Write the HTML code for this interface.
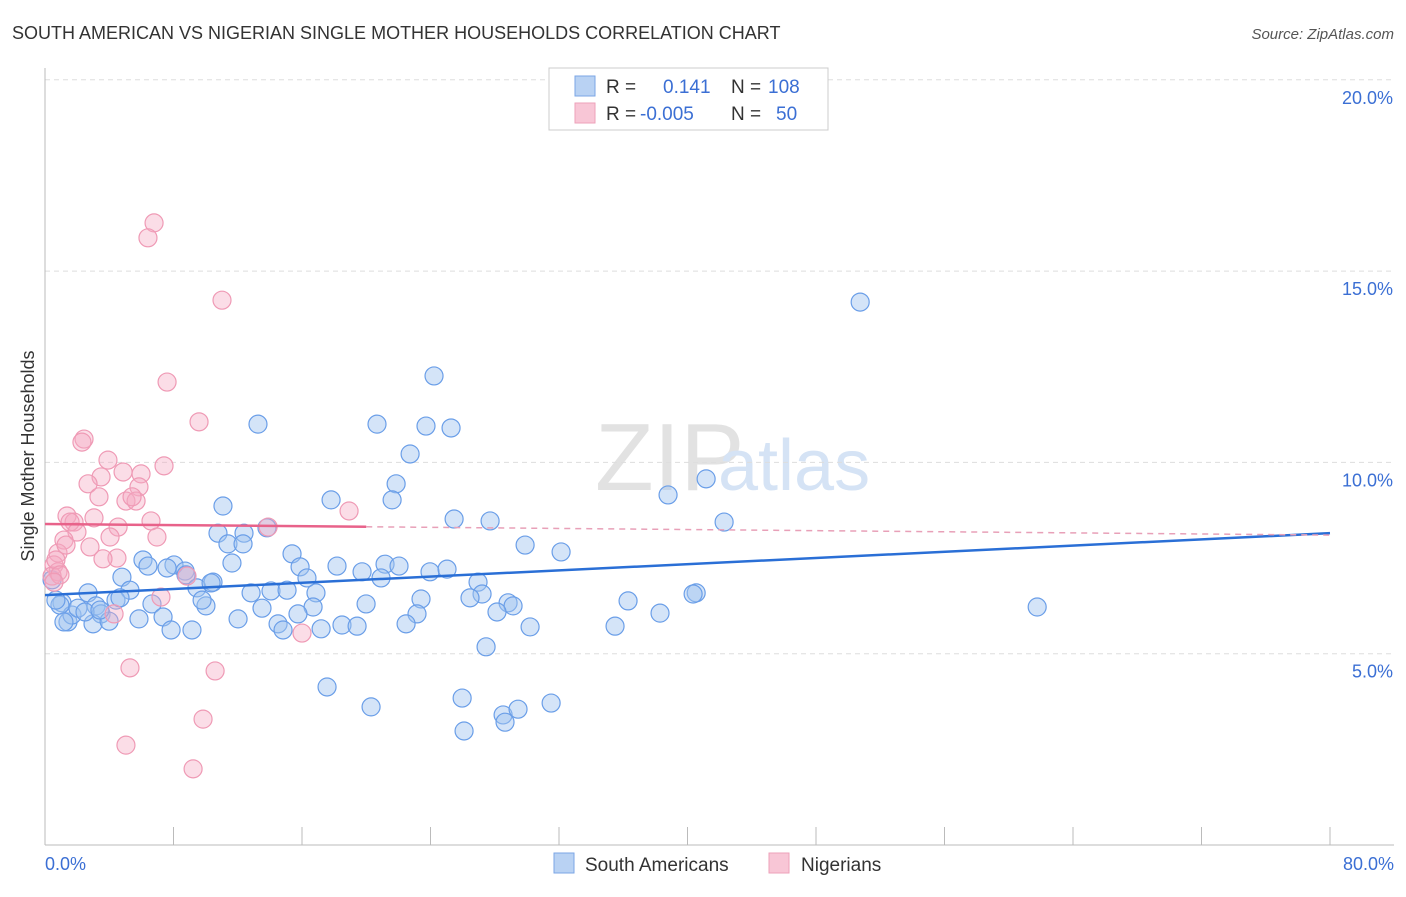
<!DOCTYPE html>
<html><head><meta charset="utf-8"><style>
body{margin:0;background:#fff;font-family:"Liberation Sans",sans-serif;}
svg text{font-family:"Liberation Sans",sans-serif;}
</style></head><body>
<svg id="chart" width="1406" height="892" xmlns="http://www.w3.org/2000/svg">
<text x="12" y="39" font-size="18" fill="#333">SOUTH AMERICAN VS NIGERIAN SINGLE MOTHER HOUSEHOLDS CORRELATION CHART</text>
<text x="1394" y="39" font-size="15" fill="#555" text-anchor="end" font-style="italic">Source: ZipAtlas.com</text>
<text x="595" y="490" font-size="96" fill="#e2e2e2" font-family="Liberation Serif">ZIP</text>
<text x="718" y="490" font-size="72" fill="#d5e3f5">atlas</text>
<g id="grid"></g>
<g id="axes"></g>
<g id="pts"></g>
<g id="trends"></g>
<text transform="translate(34,456) rotate(-90)" font-size="18" fill="#333" text-anchor="middle">Single Mother Households</text>
<text x="45" y="870" font-size="18" fill="#3b6fd4">0.0%</text>
<text x="1394" y="870" font-size="18" fill="#3b6fd4" text-anchor="end">80.0%</text>
<g>
<rect x="549" y="68" width="279" height="62" fill="#fff" stroke="#ccc"/>
<rect x="575" y="76" width="20" height="20" fill="#b9d2f3" stroke="#7ba6e6"/>
<rect x="575" y="103" width="20" height="20" fill="#f8c6d6" stroke="#eea1ba"/>
<text x="606" y="93" font-size="19" fill="#333">R =</text>
<text x="663" y="93" font-size="19" fill="#3b6fd4">0.141</text>
<text x="731" y="93" font-size="19" fill="#333">N =</text>
<text x="768" y="93" font-size="19" fill="#3b6fd4">108</text>
<text x="606" y="120" font-size="19" fill="#333">R =</text>
<text x="640" y="120" font-size="19" fill="#3b6fd4">-0.005</text>
<text x="731" y="120" font-size="19" fill="#333">N =</text>
<text x="776" y="120" font-size="19" fill="#3b6fd4">50</text>
</g>
<g>
<rect x="554" y="853" width="20" height="20" fill="#b9d2f3" stroke="#7ba6e6"/>
<text x="585" y="871" font-size="19" fill="#333">South Americans</text>
<rect x="769" y="853" width="20" height="20" fill="#f8c6d6" stroke="#eea1ba"/>
<text x="801" y="871" font-size="19" fill="#333">Nigerians</text>
</g>
</svg>
<script>
const yTicks=[5,10,15,20];
const yTickLabels=["5.0%","10.0%","15.0%","20.0%"];
const xTicks=[0,8,16,24,32,40,48,56,64,72,80];
const saX=[50.75,24.22,13.26,20.67,23.72,25.28,22.73,17.81,21.86,21.61,11.08,38.79,41.16,25.47,27.71,42.28,13.82,10.77,12.39,11.39,12.33,29.89,32.13,15.38,6.10,11.64,8.03,7.60,15.88,8.72,18.18,21.17,22.04,19.74,20.92,23.97,25.03,4.79,8.78,16.31,26.96,2.68,5.29,9.46,10.46,12.83,14.07,15.07,16.87,27.21,26.46,28.83,40.54,40.35,36.30,61.77,1.06,3.18,4.42,6.66,10.02,9.78,13.51,16.69,19.99,23.41,29.14,28.14,23.16,3.49,5.85,7.35,12.02,15.75,38.29,1.43,2.99,3.99,7.85,9.15,14.51,14.82,17.19,18.49,19.43,22.48,30.20,35.49,27.46,17.56,25.97,31.51,20.30,28.52,29.45,28.64,26.09,1.68,0.93,0.68,0.44,2.05,1.18,2.49,3.42,4.67,6.41,10.34];
const saY=[14.19,12.26,11.00,11.00,10.95,10.90,10.22,9.02,9.44,9.02,8.86,9.15,9.57,8.52,8.47,8.44,8.29,8.15,8.15,7.87,7.87,7.84,7.66,7.61,7.45,7.37,7.32,7.24,7.27,7.16,7.29,7.34,7.29,7.14,6.98,7.14,7.21,7.00,7.06,6.98,6.87,6.59,6.66,6.72,6.87,6.59,6.64,6.66,6.59,6.56,6.46,6.33,6.59,6.56,6.38,6.22,6.33,6.25,6.40,6.30,6.25,6.40,6.19,6.22,6.30,6.43,6.25,6.09,6.04,6.04,5.91,5.96,5.91,6.04,6.06,5.83,5.78,5.85,5.62,5.62,5.78,5.62,5.65,5.75,5.72,5.78,5.70,5.72,5.18,4.13,3.84,3.71,3.61,3.40,3.55,3.21,2.98,6.01,6.27,6.40,6.93,6.19,5.83,6.09,6.14,6.46,7.29,6.85];
const ngX=[6.79,6.41,11.02,7.60,9.59,2.43,2.30,3.92,7.41,4.86,3.49,5.98,2.68,3.36,5.85,5.04,5.67,5.42,1.37,3.05,1.81,1.56,6.60,1.99,18.93,13.89,4.55,4.05,6.97,1.18,2.80,0.81,4.48,3.61,0.56,0.81,0.44,8.84,4.30,16.00,5.29,10.59,9.84,5.04,9.22,0.68,0.93,7.22,0.56,1.31];
const ngY=[16.26,15.87,14.24,12.10,11.06,10.61,10.53,10.06,9.91,9.75,9.62,9.70,9.44,9.10,9.36,8.99,8.99,9.10,8.60,8.55,8.44,8.44,8.47,8.18,8.73,8.31,8.31,8.05,8.05,7.97,7.79,7.63,7.50,7.48,7.32,7.14,7.03,7.03,6.04,5.54,4.63,4.55,3.29,2.61,1.99,7.45,7.06,6.48,6.87,7.84];
const saTrend=[6.53,8.15]; // value at x=0 and x=80
const ngTrend=[8.39,8.10];
const ngSolidEnd=20;
const X=v=>45+v*(1285/80);
const Y=v=>845-v*38.26;
const NS="http://www.w3.org/2000/svg";
function mk(tag,attrs,parent){const e=document.createElementNS(NS,tag);for(const k in attrs)e.setAttribute(k,attrs[k]);parent.appendChild(e);return e;}
const grid=document.getElementById('grid'),axes=document.getElementById('axes'),pts=document.getElementById('pts'),tr=document.getElementById('trends');
yTicks.forEach((t,i)=>{
 const l=mk('line',{x1:45,x2:1394,y1:Y(t),y2:Y(t),stroke:'#ddd','stroke-dasharray':'5,4'},grid);
 
 
 const tx=mk('text',{x:1393,y:Y(t)+24,'font-size':18,fill:'#3b6fd4','text-anchor':'end'},grid);
 tx.textContent=yTickLabels[i];
 
 
});
const ya=mk('line',{x1:45,x2:45,y1:68,y2:845,stroke:'#bbb'},axes);


const xa=mk('line',{x1:45,x2:1394,y1:845,y2:845,stroke:'#bbb'},axes);


xTicks.forEach(t=>{
 const l=mk('line',{x1:X(t),x2:X(t),y1:827,y2:845,stroke:'#bbb'},axes);
 
 
});
saX.forEach((v,i)=>{
 const c=mk('circle',{cx:X(v),cy:Y(saY[i]),r:9,fill:'rgba(160,195,240,0.45)',stroke:'#6a9ee8','stroke-width':1.2},pts);
 
 
});
ngX.forEach((v,i)=>{
 const c=mk('circle',{cx:X(v),cy:Y(ngY[i]),r:9,fill:'rgba(245,170,195,0.4)',stroke:'#ef9ab5','stroke-width':1.2},pts);
 
 
});
const ngAt=x=>ngTrend[0]+(ngTrend[1]-ngTrend[0])*x/80;
const l1=mk('line',{x1:X(0),y1:Y(saTrend[0]),x2:X(80),y2:Y(saTrend[1]),stroke:'#2a6fd6','stroke-width':2.5},tr);


const l2=mk('line',{x1:X(0),y1:Y(ngAt(0)),x2:X(ngSolidEnd),y2:Y(ngAt(ngSolidEnd)),stroke:'#e8628a','stroke-width':2.5},tr);


const l3=mk('line',{x1:X(ngSolidEnd),y1:Y(ngAt(ngSolidEnd)),x2:X(80),y2:Y(ngAt(80)),stroke:'#e8a0b8','stroke-width':1.5,'stroke-dasharray':'6,5'},tr);


</script>
</body></html>
